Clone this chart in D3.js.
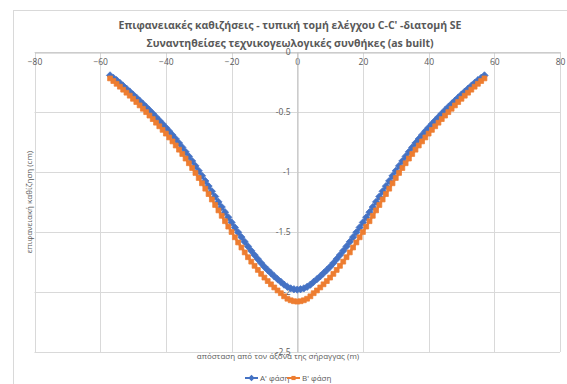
<!DOCTYPE html>
<html>
<head>
<meta charset="utf-8">
<script src="https://cdn.jsdelivr.net/npm/d3@7"></script>
<style>
  body { margin: 0; background: #fff; }
  text { font-family: "Open Sans", sans-serif; fill: #595959; }
</style>
</head>
<body>
<script>
// chart texts
var titleLines = ["Επιφανειακές καθιζήσεις - τυπική τομή ελέγχου C-C' -διατομή SE",
                  "Συναντηθείσες τεχνικογεωλογικές συνθήκες (as built)"];
var xTitle = "απόσταση  από τον άξονα της σήραγγας (m)";
var yTitle = "επιφανειακή καθίζηση (cm)";
var seriesNames = ["A' φάση", "B' φάση"];

// tick labels
var xTicks = [-80, -60, -40, -20, 0, 20, 40, 60, 80];
var yTicks = [0, -0.5, -1, -1.5, -2, -2.5];

// distance from tunnel axis (m)
var xDist = [-57,-56,-55,-54,-53,-52,-51,-50,-49,-48,-47,-46,-45,-44,-43,-42,-41,-40,-39,-38,
  -37,-36,-35,-34,-33,-32,-31,-30,-29,-28,-27,-26,-25,-24,-23,-22,-21,-20,-19,-18,-17,-16,-15,
  -14,-13,-12,-11,-10,-9,-8,-7,-6,-5,-4,-3,-2,-1,0,1,2,3,4,5,6,7,8,9,10,11,12,13,14,15,16,17,18,
  19,20,21,22,23,24,25,26,27,28,29,30,31,32,33,34,35,36,37,38,39,40,41,42,43,44,45,46,47,48,49,
  50,51,52,53,54,55,56,57];

// A' phase settlement (cm)
var phaseA = [-0.195,-0.215,-0.235,-0.258,-0.282,-0.306,-0.330,-0.355,-0.380,-0.406,-0.432,-0.458,
  -0.485,-0.513,-0.542,-0.571,-0.600,-0.630,-0.660,-0.692,-0.725,-0.759,-0.795,-0.832,-0.870,-0.909,
  -0.949,-0.990,-1.032,-1.075,-1.118,-1.161,-1.205,-1.249,-1.292,-1.335,-1.378,-1.420,-1.462,-1.503,
  -1.543,-1.582,-1.620,-1.657,-1.692,-1.726,-1.759,-1.790,-1.817,-1.843,-1.869,-1.893,-1.915,-1.939,
  -1.957,-1.970,-1.977,-1.980,-1.977,-1.970,-1.957,-1.939,-1.915,-1.893,-1.869,-1.843,-1.817,-1.790,
  -1.759,-1.726,-1.692,-1.657,-1.620,-1.582,-1.543,-1.503,-1.462,-1.420,-1.378,-1.335,-1.292,-1.249,
  -1.205,-1.161,-1.118,-1.075,-1.032,-0.990,-0.949,-0.909,-0.870,-0.832,-0.795,-0.759,-0.725,-0.692,
  -0.660,-0.630,-0.600,-0.571,-0.542,-0.513,-0.485,-0.458,-0.432,-0.406,-0.380,-0.355,-0.330,-0.306,
  -0.282,-0.258,-0.235,-0.215,-0.195];

// B' phase settlement (cm)
var phaseB = [-0.220,-0.242,-0.265,-0.289,-0.314,-0.339,-0.364,-0.390,-0.417,-0.445,-0.473,-0.501,
  -0.530,-0.559,-0.589,-0.619,-0.649,-0.680,-0.712,-0.745,-0.779,-0.814,-0.850,-0.888,-0.927,-0.967,
  -1.008,-1.050,-1.094,-1.139,-1.184,-1.229,-1.275,-1.320,-1.365,-1.410,-1.455,-1.500,-1.544,-1.587,
  -1.629,-1.670,-1.710,-1.747,-1.782,-1.816,-1.849,-1.880,-1.909,-1.936,-1.962,-1.987,-2.010,-2.036,
  -2.056,-2.069,-2.077,-2.080,-2.077,-2.069,-2.056,-2.036,-2.010,-1.987,-1.962,-1.936,-1.909,-1.880,
  -1.849,-1.816,-1.782,-1.747,-1.710,-1.670,-1.629,-1.587,-1.544,-1.500,-1.455,-1.410,-1.365,-1.320,
  -1.275,-1.229,-1.184,-1.139,-1.094,-1.050,-1.008,-0.967,-0.927,-0.888,-0.850,-0.814,-0.779,-0.745,
  -0.712,-0.680,-0.649,-0.619,-0.589,-0.559,-0.530,-0.501,-0.473,-0.445,-0.417,-0.390,-0.364,-0.339,
  -0.314,-0.289,-0.265,-0.242,-0.220];

var colors = ["#4472C4", "#ED7D31"];

var width = 567, height = 384;
var plot = {left: 34.5, right: 560, top: 52, bottom: 352};

var svg = d3.select("body").append("svg")
    .attr("width", width)
    .attr("height", height);

// chart area frame
svg.append("rect")
    .attr("x", 13.5).attr("y", 10.5)
    .attr("width", 560).attr("height", 380)
    .attr("fill", "#fff")
    .attr("stroke", "#d9d9d9");

var x = d3.scaleLinear().domain([-80, 80]).range([plot.left, plot.right]);
var y = d3.scaleLinear().domain([0, -2.5]).range([plot.top, plot.bottom]);

// gridlines
svg.append("g").selectAll("line.v")
    .data(xTicks).enter().append("line")
    .attr("x1", function(d) { return Math.round(x(d)) + 0.5; })
    .attr("x2", function(d) { return Math.round(x(d)) + 0.5; })
    .attr("y1", plot.top).attr("y2", plot.bottom)
    .attr("stroke", "#d9d9d9");
svg.append("g").selectAll("line.h")
    .data(yTicks).enter().append("line")
    .attr("x1", plot.left).attr("x2", plot.right)
    .attr("y1", function(d) { return Math.round(y(d)) + 0.5; })
    .attr("y2", function(d) { return Math.round(y(d)) + 0.5; })
    .attr("stroke", "#d9d9d9");

// x axis along y = 0 (top)
var xAxis = svg.append("g")
    .attr("transform", "translate(0," + (Math.round(y(0)) + 0.5) + ")")
    .call(d3.axisBottom(x).tickValues(xTicks).tickSize(0).tickPadding(6));
xAxis.select(".domain").attr("stroke", "#bfbfbf");
xAxis.selectAll("text").style("font-size", "8.5px").attr("fill", "#595959");

// y axis along x = 0
var yAxis = svg.append("g")
    .attr("transform", "translate(" + (Math.round(x(0)) + 0.5) + ",0)")
    .call(d3.axisLeft(y).tickValues(yTicks).tickSize(0).tickPadding(7)
          .tickFormat(function(d) { return d; }));
yAxis.select(".domain").attr("stroke", "#bfbfbf");
yAxis.selectAll("text").style("font-size", "8.5px").attr("fill", "#595959");

// series
var series = [phaseA, phaseB].map(function(vals, i) {
  return {name: seriesNames[i], color: colors[i],
          pts: xDist.map(function(d, j) { return [d, vals[j]]; })};
});

var line = d3.line()
    .x(function(d) { return x(d[0]); })
    .y(function(d) { return y(d[1]); });

series.forEach(function(s, i) {
  svg.append("path")
      .datum(s.pts)
      .attr("d", line)
      .attr("fill", "none")
      .attr("stroke", s.color)
      .attr("stroke-width", 2.25);
  var sym = d3.symbol().type(i === 0 ? d3.symbolDiamond2 : d3.symbolSquare2).size(i === 0 ? 34 : 30);
  svg.append("g").selectAll("path")
      .data(s.pts).enter().append("path")
      .attr("transform", function(d) { return "translate(" + x(d[0]) + "," + y(d[1]) + ")"; })
      .attr("d", sym)
      .attr("fill", s.color)
      .attr("stroke", s.color)
      .attr("stroke-width", 0.75);
});

// title
svg.append("g").selectAll("text")
    .data(titleLines).enter().append("text")
    .attr("x", 290)
    .attr("y", function(d, i) { return 29 + i * 18; })
    .attr("text-anchor", "middle")
    .style("font-size", "10.5px")
    .style("font-weight", "bold")
    .text(function(d) { return d; });

// axis titles
svg.append("text")
    .attr("x", 278).attr("y", 359)
    .attr("text-anchor", "middle")
    .style("font-size", "8px")
    .text(xTitle);

svg.append("text")
    .attr("transform", "translate(32,202) rotate(-90)")
    .attr("text-anchor", "middle")
    .style("font-size", "8px")
    .text(yTitle);

// legend
var legend = svg.append("g");
var legX = [245, 287];
series.forEach(function(s, i) {
  var g = legend.append("g").attr("transform", "translate(" + legX[i] + ",378)");
  g.append("line").attr("x1", 0).attr("x2", 13).attr("y1", 0).attr("y2", 0)
      .attr("stroke", s.color).attr("stroke-width", 2);
  g.append("path").attr("transform", "translate(6.5,0)")
      .attr("d", d3.symbol().type(i === 0 ? d3.symbolDiamond2 : d3.symbolSquare2).size(i === 0 ? 26 : 22))
      .attr("fill", s.color);
  g.append("text").attr("x", 15).attr("y", 3)
      .style("font-size", "8px")
      .text(s.name);
});
</script>
</body>
</html>
